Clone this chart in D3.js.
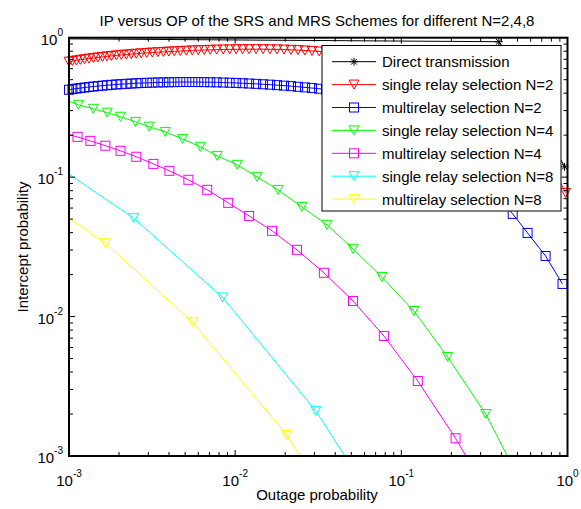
<!DOCTYPE html>
<html><head><meta charset="utf-8">
<script src="https://cdn.jsdelivr.net/npm/d3@7"></script>
<style>body{margin:0;background:#fff} svg{display:block} text{font-family:"Liberation Sans",Arial,sans-serif;fill:#000}</style>
</head><body><svg id="c" width="581" height="509"></svg>
<script>
// ---------- data ----------
const titleText = "IP versus OP of the SRS and MRS Schemes for different N=2,4,8";
const xLabelText = "Outage probability";
const yLabelText = "Intercept probability";
const xTickValues = [1e-3, 1e-2, 1e-1, 1];
const xTickExps = ["-3", "-2", "-1", "0"];
const yTickValues = [1e-3, 1e-2, 1e-1, 1];
const yTickExps = ["-3", "-2", "-1", "0"];
const seriesNames = ["Direct transmission", "single relay selection N=2", "multirelay selection N=2",
  "single relay selection N=4", "multirelay selection N=4", "single relay selection N=8", "multirelay selection N=8"];

const opDirect = [1e-4, 0.386, 0.960];
const ipDirect = [0.999, 0.936, 0.1186];

const opDense = [0.001, 1.049e-3, 1.109e-3, 1.172e-3, 1.239e-3, 1.318e-3, 1.403e-3, 1.493e-3, 1.589e-3, 1.691e-3,
  1.799e-3, 1.928e-3, 2.065e-3, 2.213e-3, 2.371e-3, 2.541e-3, 2.723e-3, 2.938e-3, 3.175e-3, 3.428e-3,
  3.698e-3, 3.990e-3, 4.305e-3, 4.677e-3, 5.081e-3, 5.521e-3, 5.998e-3, 6.516e-3, 7.079e-3, 7.745e-3,
  8.472e-3, 9.268e-3, 1.014e-2, 1.109e-2, 1.213e-2, 1.337e-2, 1.472e-2, 1.622e-2, 1.786e-2, 1.968e-2,
  2.168e-2, 2.388e-2, 2.630e-2, 2.897e-2, 3.199e-2, 3.524e-2];

const opSRS2 = opDense.concat([5.64e-2, 9.8e-2, 0.1954, 0.391, 0.679, 0.973]);
const ipSRS2 = [0.6726, 0.6804, 0.6871, 0.6940, 0.7010, 0.7079, 0.7150, 0.7221, 0.7281, 0.7342,
  0.7402, 0.7463, 0.7525, 0.7575, 0.7626, 0.7676, 0.7727, 0.7778, 0.7830, 0.7869,
  0.7908, 0.7947, 0.7987, 0.8026, 0.8066, 0.8106, 0.8133, 0.8160, 0.8187, 0.8215,
  0.8229, 0.8243, 0.8256, 0.8270, 0.8270, 0.8270, 0.8270, 0.8256, 0.8243, 0.8215,
  0.8187, 0.8146, 0.8092, 0.8039, 0.7973, 0.7908,
  0.768, 0.695, 0.570, 0.371, 0.185, 0.0771];

const opMRS2 = opDense.concat([6.47e-2, 0.1125, 0.1824, 0.2404, 0.304, 0.380, 0.468, 0.575, 0.738, 0.933]);
const ipMRS2 = [0.4233, 0.4276, 0.4318, 0.4354, 0.4390, 0.4427, 0.4464, 0.4501, 0.4530, 0.4560,
  0.4591, 0.4622, 0.4644, 0.4667, 0.4690, 0.4714, 0.4729, 0.4745, 0.4761, 0.4777,
  0.4784, 0.4792, 0.4800, 0.4808, 0.4808, 0.4808, 0.4808, 0.4800, 0.4792, 0.4784,
  0.4769, 0.4753, 0.4737, 0.4714, 0.4690, 0.4667, 0.4636, 0.4605, 0.4567, 0.4530,
  0.4493, 0.4448, 0.4404, 0.4354, 0.4304, 0.4247,
  0.3834, 0.304, 0.201, 0.1376, 0.0989, 0.0734, 0.0545, 0.0398, 0.0272, 0.01714];

const opSRS4 = [9.8e-4, 1.14e-3, 1.40e-3, 1.70e-3, 2.04e-3, 2.51e-3, 3.04e-3, 3.80e-3, 4.81e-3, 6.17e-3, 7.80e-3,
  1.03e-2, 1.355e-2, 1.81e-2, 2.52e-2, 3.57e-2, 5.12e-2, 7.64e-2, 0.119, 0.190, 0.322, 0.530];
const ipSRS4 = [0.353, 0.330, 0.309, 0.290, 0.271, 0.249, 0.230, 0.211, 0.188, 0.165, 0.142,
  0.1225, 0.1005, 0.081, 0.0612, 0.0455, 0.0306, 0.0192, 0.01096, 0.00513, 0.0020, 6.3e-4];

const opMRS4 = [9.4e-4, 1.125e-3, 1.345e-3, 1.655e-3, 2.04e-3, 2.54e-3, 3.22e-3, 4.02e-3, 5.23e-3, 6.79e-3,
  9.08e-3, 1.213e-2, 1.667e-2, 2.355e-2, 3.42e-2, 5.12e-2, 7.85e-2, 0.1256, 0.212, 0.380];
const ipMRS4 = [0.2046, 0.1945, 0.182, 0.168, 0.1545, 0.140, 0.1245, 0.111, 0.0957, 0.0811,
  0.0654, 0.0527, 0.0412, 0.0301, 0.0206, 0.01294, 0.00726, 0.00345, 0.00134, 4.09e-4];

const opSRS8 = [6.74e-4, 2.45e-3, 8.41e-3, 3.06e-2, 0.098];
const ipSRS8 = [0.1445, 0.0508, 0.01371, 0.0021, 2.45e-4];

const opMRS8 = [4.97e-4, 1.655e-3, 5.54e-3, 2.044e-2, 0.0693];
const ipMRS8 = [0.091, 0.0336, 0.0091, 1.413e-3, 1.37e-4];

const seriesColors = ["#000000", "#ff0000", "#0000ff", "#00ff00", "#ff00ff", "#00ffff", "#ffff00"];
const seriesMarkers = ["star", "tri", "sq", "tri", "sq", "tri", "tri"];
const seriesOP = [opDirect, opSRS2, opMRS2, opSRS4, opMRS4, opSRS8, opMRS8];
const seriesIP = [ipDirect, ipSRS2, ipMRS2, ipSRS4, ipMRS4, ipSRS8, ipMRS8];

// ---------- layout ----------
const L = 69, R = 567.5, T = 37.7, B = 456;
const svg = d3.select("#c");
svg.append("rect").attr("width", 581).attr("height", 509).attr("fill", "#fff");
const x = d3.scaleLog().domain([1e-3, 1]).range([L, R]);
const y = d3.scaleLog().domain([1e-3, 1]).range([B, T]);

svg.append("defs").append("clipPath").attr("id", "clip")
  .append("rect").attr("x", L).attr("y", T).attr("width", R - L).attr("height", B - T);

function drawMarker(g, type, cx, cy, color) {
  if (type === "tri") {
    g.append("path").attr("d", `M${cx - 5},${cy - 4.5}L${cx + 5},${cy - 4.5}L${cx},${cy + 4.5}Z`)
      .attr("fill", "none").attr("stroke", color).attr("stroke-width", 1);
  } else if (type === "sq") {
    g.append("rect").attr("x", cx - 4.5).attr("y", cy - 4.5).attr("width", 9).attr("height", 9)
      .attr("fill", "none").attr("stroke", color).attr("stroke-width", 1);
  } else {
    const r = 4, d = 2.9;
    g.append("path").attr("d",
      `M${cx - r},${cy}L${cx + r},${cy}M${cx},${cy - r}L${cx},${cy + r}M${cx - d},${cy - d}L${cx + d},${cy + d}M${cx - d},${cy + d}L${cx + d},${cy - d}`)
      .attr("fill", "none").attr("stroke", color).attr("stroke-width", 1);
  }
}

const line = d3.line().x(d => x(d[0])).y(d => y(d[1]));
const plotG = svg.append("g");
seriesNames.forEach((name, i) => {
  const pts = seriesOP[i].map((v, k) => [v, seriesIP[i][k]]);
  plotG.append("path").datum(pts).attr("d", line).attr("fill", "none")
    .attr("stroke", seriesColors[i]).attr("stroke-width", 1).attr("clip-path", "url(#clip)");
  const mg = plotG.append("g");
  pts.forEach(p => {
    if (p[0] >= 0.9999e-3 && p[0] <= 1.0001 && p[1] >= 0.9999e-3 && p[1] <= 1.0001) {
      drawMarker(mg, seriesMarkers[i], x(p[0]), y(p[1]), seriesColors[i]);
    }
  });
});

// ---------- axes ----------
const axG = svg.append("g");
const minor = [];
for (let e = -3; e < 0; e++) for (let m = 2; m <= 9; m++) minor.push(m * Math.pow(10, e));
const majLen = 6, minLen = 4;
function tick(x1, y1, x2, y2) {
  axG.append("line").attr("x1", x1).attr("y1", y1).attr("x2", x2).attr("y2", y2)
    .attr("stroke", "#000").attr("stroke-width", 1);
}
xTickValues.forEach(v => { const px = x(v); tick(px, B, px, B - majLen); tick(px, T, px, T + majLen); });
minor.forEach(v => { const px = x(v); tick(px, B, px, B - minLen); tick(px, T, px, T + minLen); });
yTickValues.forEach(v => { const py = y(v); tick(L, py, L + majLen, py); tick(R, py, R - majLen, py); });
minor.forEach(v => { const py = y(v); tick(L, py, L + minLen, py); tick(R, py, R - minLen, py); });
axG.append("rect").attr("x", L).attr("y", T).attr("width", R - L).attr("height", B - T)
  .attr("fill", "none").attr("stroke", "#000").attr("stroke-width", 2);

xTickValues.forEach((v, i) => {
  const t = axG.append("text").attr("x", x(v)).attr("y", 486).attr("text-anchor", "middle").attr("font-size", 15);
  t.append("tspan").text("10");
  t.append("tspan").attr("font-size", 10).attr("dy", -9).text(xTickExps[i]);
});
yTickValues.forEach((v, i) => {
  const t = axG.append("text").attr("x", 63).attr("y", y(v) + 7).attr("text-anchor", "end").attr("font-size", 15);
  t.append("tspan").text("10");
  t.append("tspan").attr("font-size", 10).attr("dy", -9).text(yTickExps[i]);
});

svg.append("text").attr("x", 317).attr("y", 26).attr("text-anchor", "middle").attr("font-size", 15).text(titleText);
svg.append("text").attr("x", 317).attr("y", 500).attr("text-anchor", "middle").attr("font-size", 15).text(xLabelText);
svg.append("text").attr("transform", "translate(27.5,247) rotate(-90)").attr("text-anchor", "middle")
  .attr("font-size", 15).text(yLabelText);

// ---------- legend ----------
const lg = svg.append("g");
lg.append("rect").attr("x", 322).attr("y", 45.5).attr("width", 239).attr("height", 165.5)
  .attr("fill", "#fff").attr("stroke", "#000").attr("stroke-width", 1);
seriesNames.forEach((name, i) => {
  const cy = 61.7 + 22.9 * i;
  lg.append("line").attr("x1", 332).attr("x2", 376).attr("y1", cy).attr("y2", cy)
    .attr("stroke", seriesColors[i]).attr("stroke-width", 1);
  drawMarker(lg, seriesMarkers[i], 354, cy, seriesColors[i]);
  lg.append("text").attr("x", 382).attr("y", cy + 5.5).attr("font-size", 15).text(name);
});
</script></body></html>
